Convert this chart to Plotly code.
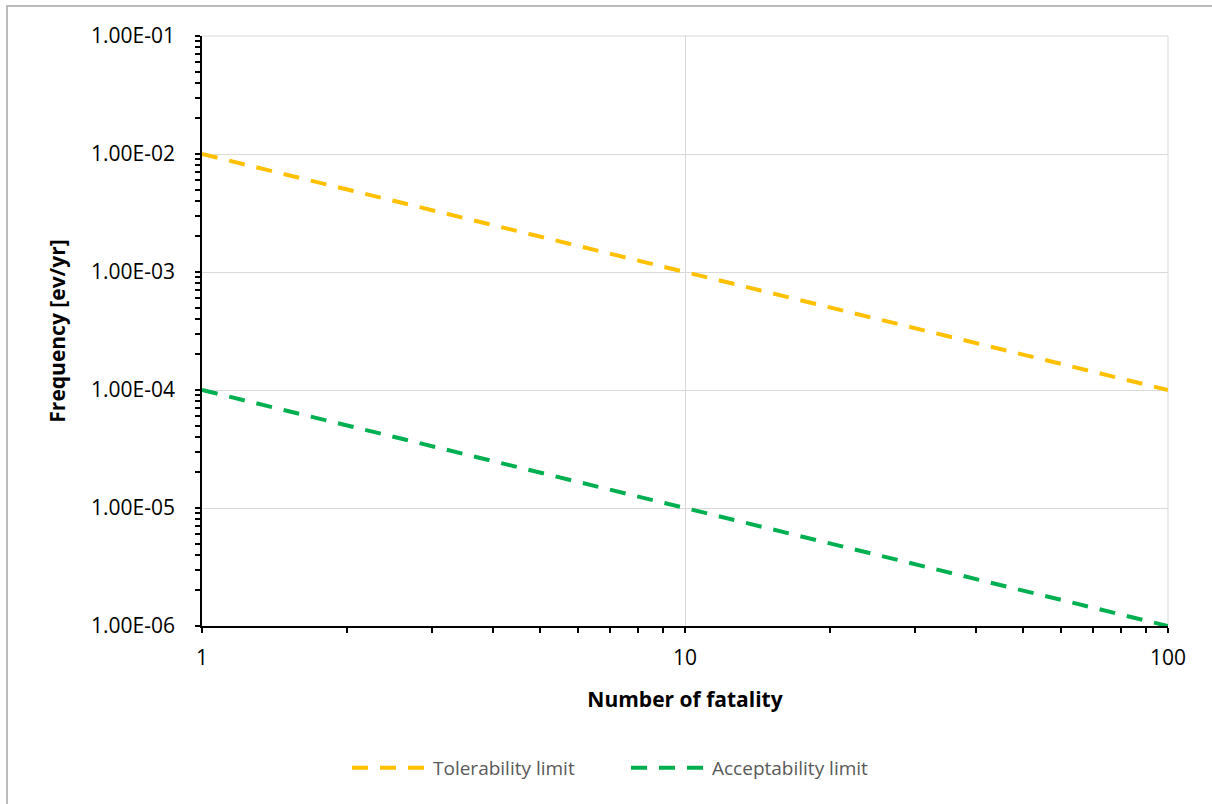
import plotly.graph_objects as go

# Data
fatalities = [1, 10, 100]
tolerability = [1e-2, 1e-3, 1e-4]
acceptability = [1e-4, 1e-5, 1e-6]

y_tickvals = [1e-6, 1e-5, 1e-4, 1e-3, 1e-2, 1e-1]
y_ticktext = ["1.00E-06", "1.00E-05", "1.00E-04", "1.00E-03", "1.00E-02", "1.00E-01"]
x_tickvals = [1, 10, 100]
x_ticktext = ["1", "10", "100"]
minor_x = [2, 3, 4, 5, 6, 7, 8, 9, 20, 30, 40, 50, 60, 70, 80, 90]
minor_y = [m * d for d in (1e-6, 1e-5, 1e-4, 1e-3, 1e-2) for m in (2, 3, 4, 5, 6, 7, 8, 9)]

W, H = 1212, 804
L, R, T, B = 202, 1168, 36, 626

FONT = "Open Sans"
GRID = "#D9D9D9"

fig = go.Figure()
fig.add_trace(go.Scatter(
    x=fatalities, y=tolerability, mode="lines", name="Tolerability limit",
    line=dict(color="#FFC000", width=4, dash="16px,12px"),
))
fig.add_trace(go.Scatter(
    x=fatalities, y=acceptability, mode="lines", name="Acceptability limit",
    line=dict(color="#00B050", width=4, dash="16px,12px"),
))

fig.update_xaxes(
    type="log", range=[0, 2],
    tickmode="array", tickvals=x_tickvals, ticktext=x_ticktext,
    ticks="outside", ticklen=5, tickwidth=1.5, tickcolor="black",
    ticklabelstandoff=7,
    showline=True, linecolor="black", linewidth=1.5,
    showgrid=True, gridcolor=GRID, gridwidth=1,
    minor=dict(tickmode="array", tickvals=minor_x, ticks="outside", ticklen=5,
               tickwidth=1.5, tickcolor="black", showgrid=False),
    tickfont=dict(family=FONT, size=21, color="black"),
    title=dict(text="<b>Number of fatality</b>", font=dict(family=FONT, size=21, color="black"), standoff=22),
    zeroline=False, mirror=False,
)
fig.update_yaxes(
    type="log", range=[-6, -1],
    tickmode="array", tickvals=y_tickvals, ticktext=y_ticktext,
    ticks="outside", ticklen=5, tickwidth=1.5, tickcolor="black",
    ticklabelstandoff=16,
    showline=True, linecolor="black", linewidth=1.5,
    showgrid=True, gridcolor=GRID, gridwidth=1,
    minor=dict(tickmode="array", tickvals=minor_y, ticks="outside", ticklen=5,
               tickwidth=1.5, tickcolor="black", showgrid=False),
    tickfont=dict(family=FONT, size=21, color="black"),
    title=dict(text="<b>Frequency [ev/yr]</b>", font=dict(family=FONT, size=21, color="black"), standoff=20),
    zeroline=False,
)

# plot-area edge gridlines (top and right), which plotly omits at range ends
fig.add_shape(type="line", xref="paper", yref="paper", x0=0, x1=1, y0=1, y1=1,
              line=dict(color=GRID, width=1), layer="below")
fig.add_shape(type="line", xref="paper", yref="paper", x0=1, x1=1, y0=0, y1=1,
              line=dict(color=GRID, width=1), layer="below")

pw, ph = R - L, B - T
fig.add_shape(
    type="rect", xref="paper", yref="paper",
    x0=(7 - L) / pw, x1=(W + 10 - L) / pw,
    y0=(B - (H + 10)) / ph, y1=(B - 6) / ph,
    line=dict(color="#A6A6A6", width=1.5), fillcolor="rgba(0,0,0,0)", layer="below",
)

fig.update_layout(
    width=W, height=H,
    margin=dict(l=L, r=W - R, t=T, b=H - B, autoexpand=False),
    plot_bgcolor="white", paper_bgcolor="white",
    showlegend=True,
    legend=dict(
        orientation="h", x=(626 - L) / pw, xanchor="center",
        y=(B - 768) / ph, yanchor="middle",
        font=dict(family=FONT, size=19, color="#595959"),
        itemwidth=76, entrywidth=188, tracegroupgap=0,
        bgcolor="rgba(0,0,0,0)",
    ),
)

fig.write_html(
    "out.html",
    config={"displayModeBar": False},
    post_script="document.body.style.margin='0';document.body.style.padding='0';",
)
